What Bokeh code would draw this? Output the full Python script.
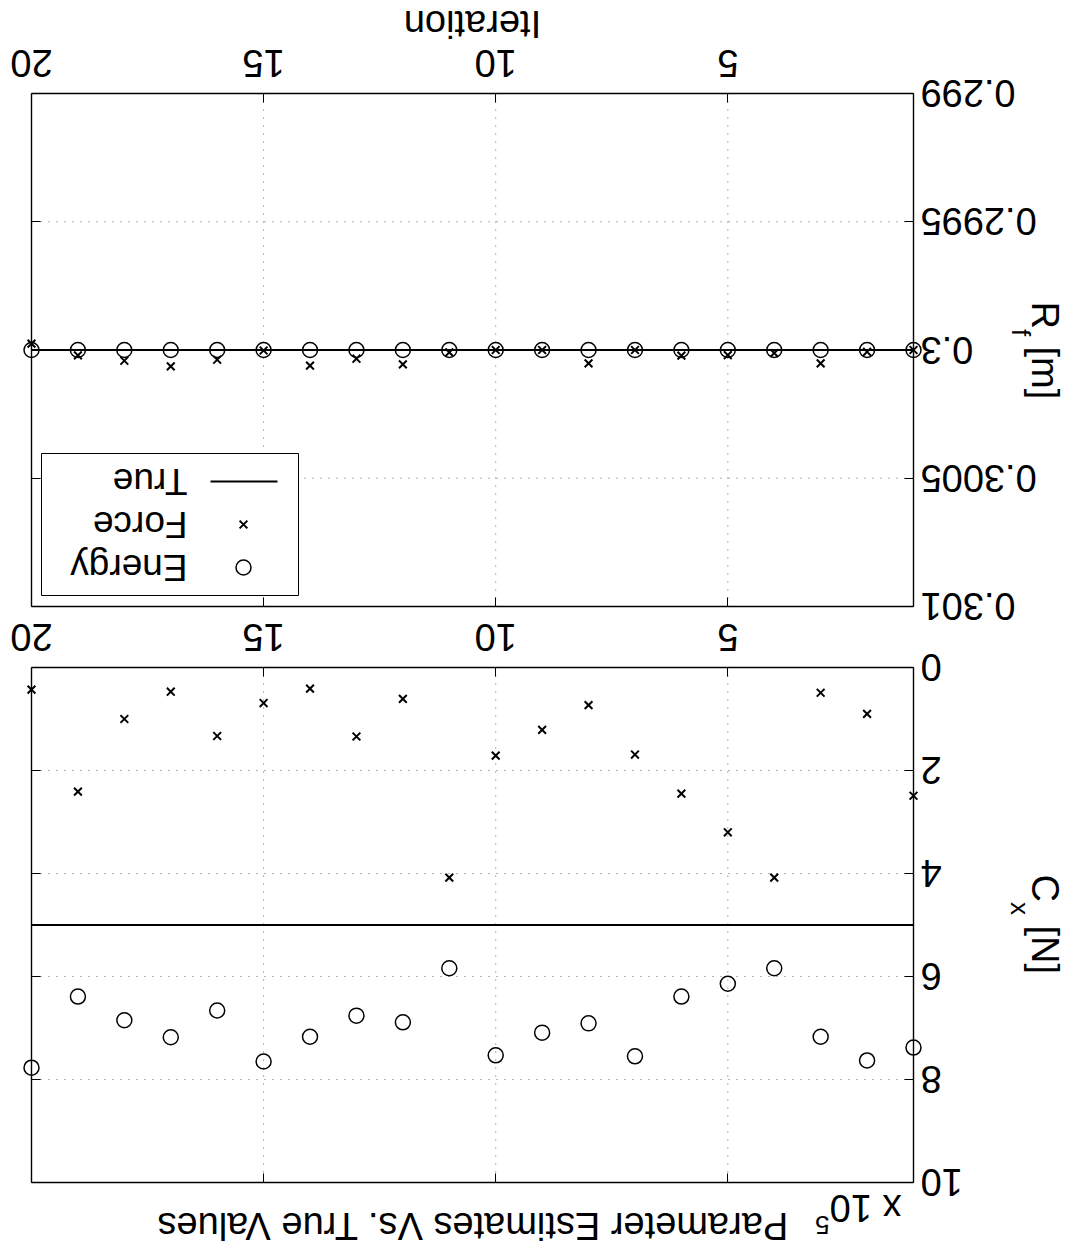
import math
from bokeh.plotting import figure
from bokeh.models import Range1d, LinearAxis, FixedTicker, Label, CustomJSTickFormatter
from bokeh.embed import file_html
from bokeh.resources import INLINE

# ---------------- data ----------------
iterations = list(range(1, 21))

rf_true = 0.3
rf_energy = [0.3000, 0.3000, 0.3000, 0.3000, 0.3000, 0.3000, 0.3000, 0.3000, 0.3000, 0.3000,
             0.3000, 0.3000, 0.3000, 0.3000, 0.3000, 0.3000, 0.3000, 0.3000, 0.3000, 0.3000]
rf_force = [0.300000, 0.300007, 0.300052, 0.300012, 0.300020, 0.300022, 0.300000, 0.300052,
            0.300000, 0.300000, 0.300009, 0.300056, 0.300034, 0.300061, 0.300002, 0.300038,
            0.300064, 0.300042, 0.300021, 0.299975]

cx_true = 5.0          # in units of 1e5 N
cx_force = [2.49, 0.90, 0.49, 4.08, 3.20, 2.45, 1.69, 0.73, 1.21, 1.71,
            4.08, 0.61, 1.34, 0.41, 0.69, 1.33, 0.47, 1.00, 2.41, 0.43]
cx_energy = [7.38, 7.63, 7.17, 5.84, 6.14, 6.39, 7.55, 6.91, 7.09, 7.53,
             5.84, 6.89, 6.76, 7.17, 7.65, 6.66, 7.18, 6.85, 6.39, 7.77]

x_lim = (1, 20)
x_ticks = [5, 10, 15, 20]
x_tick_labels = ["5", "10", "15", "20"]
rf_lim = (0.299, 0.301)
rf_ticks = [0.299, 0.2995, 0.3, 0.3005, 0.301]
rf_tick_labels = ["0.299", "0.2995", "0.3", "0.3005", "0.301"]
cx_lim = (0, 10)
cx_ticks = [0, 2, 4, 6, 8, 10]
cx_tick_labels = ["0", "2", "4", "6", "8", "10"]

legend_labels = ["True", "Force", "Energy"]

# ---------------- layout (canvas pixels; the picture is drawn upside down) ----------------
FONT = "Liberation Sans"
FS = 38
W, H = 1069, 1248
FR_L, FR_R = 31, 913          # x=20 at left edge, x=1 at right edge
FR1_T, FR1_B = 93, 606        # R_f panel: 0.299 top, 0.301 bottom
FR2_T, FR2_B = 667, 1182      # C_x panel: 0 top, 10 bottom


def lin(p0, v0, p1, v1):
    return lambda px: v0 + (px - p0) * (v1 - v0) / (p1 - p0)


dx = lin(FR_L, x_lim[1], FR_R, x_lim[0])
dy1 = lin(FR1_T, rf_lim[0], FR1_B, rf_lim[1])
dy2 = lin(FR2_T, cx_lim[0], FR2_B, cx_lim[1])

p = figure(width=W, height=H,
           x_range=Range1d(dx(0), dx(W)), y_range=Range1d(dy2(H), dy2(0)),
           x_axis_location=None, y_axis_location=None,
           toolbar_location=None, output_backend="svg", min_border=0)
p.extra_y_ranges = {"rf": Range1d(dy1(H), dy1(0))}
p.title.visible = False
p.outline_line_color = None
p.background_fill_color = "white"
p.border_fill_color = "white"
p.xgrid.grid_line_color = None
p.ygrid.grid_line_color = None


def add_axis(side, loc, bounds, ticks, rng="default"):
    ax = LinearAxis(fixed_location=loc, bounds=bounds, ticker=FixedTicker(ticks=ticks),
                    formatter=CustomJSTickFormatter(code="return ''"),
                    major_tick_in=9, major_tick_out=0, minor_tick_line_color=None,
                    major_label_standoff=0, axis_line_color="black", axis_line_width=1.4,
                    major_tick_line_color="black", major_tick_line_width=1)
    ax.y_range_name = rng
    p.add_layout(ax, side)


def add_text(x, y, text, size=FS, angle=math.pi, align="center", baseline="middle", rng="default"):
    p.add_layout(Label(x=x, y=y, text=text, angle=angle, text_align=align,
                       text_baseline=baseline, text_font=FONT, y_range_name=rng,
                       text_font_size=f"{size}px", text_color="black"))


GRID = dict(line_color="black", line_alpha=0.6, line_dash="1 7", line_width=1, level="underlay")
VERT = -math.pi / 2
CIRC = 15

# ---------------- R_f panel ----------------
gx = [t for t in x_ticks if x_lim[0] < t < x_lim[1]]
p.segment(x0=gx, y0=[rf_lim[0]] * len(gx), x1=gx, y1=[rf_lim[1]] * len(gx), y_range_name="rf", **GRID)
gy = [t for t in rf_ticks if rf_lim[0] < t < rf_lim[1]]
p.segment(x0=[x_lim[0]] * len(gy), y0=gy, x1=[x_lim[1]] * len(gy), y1=gy, y_range_name="rf", **GRID)

p.scatter(iterations, rf_energy, marker="circle", size=CIRC, fill_color=None,
          line_color="black", line_width=1.5, y_range_name="rf")
p.scatter(iterations, rf_force, marker="x", size=11, line_color="black", line_width=2,
          y_range_name="rf")
p.line([iterations[0], iterations[-1]], [rf_true, rf_true], line_color="black", line_width=1.8,
       y_range_name="rf")

add_axis("above", rf_lim[0], x_lim, x_ticks, "rf")
add_axis("below", rf_lim[1], x_lim, x_ticks, "rf")
add_axis("right", x_lim[0], rf_lim, rf_ticks, "rf")
add_axis("left", x_lim[1], rf_lim, rf_ticks, "rf")

for t, s in zip(x_ticks, x_tick_labels):
    add_text(t, dy1(63), s, rng="rf")
for t, s in zip(rf_ticks, rf_tick_labels):
    add_text(dx(920), t, s, align="right", rng="rf")
add_text(dx(472), dy1(23), "Iteration", rng="rf")
add_text(dx(1044), dy1(301), "R", angle=VERT, align="left", rng="rf")
add_text(dx(1020), dy1(328.4), "f", size=26, angle=VERT, align="left", rng="rf")
add_text(dx(1044), dy1(346), "[m]", angle=VERT, align="left", rng="rf")

# legend (upside down like the rest)
p.quad(left=dx(41), right=dx(298), top=dy1(453), bottom=dy1(595),
       fill_color="white", line_color="black", line_width=1, y_range_name="rf")
p.line([dx(210), dx(277)], [dy1(481), dy1(481)], line_color="black", line_width=1.8, y_range_name="rf")
p.scatter([dx(243)], [dy1(524)], marker="x", size=11, line_color="black", line_width=2, y_range_name="rf")
p.scatter([dx(243)], [dy1(567)], marker="circle", size=CIRC, fill_color=None,
          line_color="black", line_width=1.5, y_range_name="rf")
for yy, s in zip([481, 524, 567], legend_labels):
    add_text(dx(187), dy1(yy), s, size=37, align="left", rng="rf")

# ---------------- C_x panel ----------------
p.segment(x0=gx, y0=[cx_lim[0]] * len(gx), x1=gx, y1=[cx_lim[1]] * len(gx), **GRID)
gy2 = [t for t in cx_ticks if cx_lim[0] < t < cx_lim[1]]
p.segment(x0=[x_lim[0]] * len(gy2), y0=gy2, x1=[x_lim[1]] * len(gy2), y1=gy2, **GRID)

p.scatter(iterations, cx_energy, marker="circle", size=CIRC, fill_color=None,
          line_color="black", line_width=1.5)
p.scatter(iterations, cx_force, marker="x", size=11, line_color="black", line_width=2)
p.line([iterations[0], iterations[-1]], [cx_true, cx_true], line_color="black", line_width=1.8)

add_axis("above", cx_lim[0], x_lim, x_ticks)
add_axis("below", cx_lim[1], x_lim, x_ticks)
add_axis("right", x_lim[0], cx_lim, cx_ticks)
add_axis("left", x_lim[1], cx_lim, cx_ticks)

for t, s in zip(x_ticks, x_tick_labels):
    add_text(t, dy2(637), s)
for t, s in zip(cx_ticks, cx_tick_labels):
    add_text(dx(920), t, s, align="right")
add_text(dx(1044), dy2(874), "C", angle=VERT, align="left")
add_text(dx(1019), dy2(901.4), "x", size=26, angle=VERT, align="left")
add_text(dx(1044), dy2(925), "[N]", angle=VERT, align="left")

add_text(dx(901), dy2(1207), "x 10", align="left")
add_text(dx(829), dy2(1224), "5", size=26, align="left")
add_text(dx(472), dy2(1225), "Parameter Estimates Vs. True Values")

open("out.html", "w").write(file_html(p, INLINE))
